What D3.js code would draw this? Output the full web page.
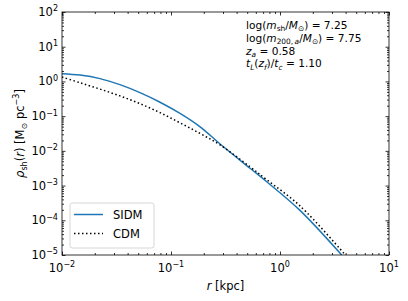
<!DOCTYPE html>
<html>
<head>
<meta charset="utf-8">
<script src="https://cdn.jsdelivr.net/npm/d3@7"></script>
<style>
  body { margin: 0; background: #fff; }
  text { font-family: "DejaVu Sans", sans-serif; fill: #000; }
</style>
</head>
<body>
<div class="container"></div>
<script>
// radius in kpc, density in Msun / pc^3
var sidmR   = [0.01, 0.0146, 0.0223, 0.034, 0.0519, 0.0793, 0.121, 0.185, 0.282, 0.531, 0.755, 1.525, 3.68];
var sidmRho = [1.67, 1.52, 1.205, 0.807, 0.475, 0.252, 0.120, 0.0493, 0.0158, 0.00316, 0.00129, 1.93e-4, 1.0e-5];
var cdmR    = [0.01, 0.0146, 0.0223, 0.034, 0.0519, 0.0793, 0.121, 0.185, 0.282, 0.531, 0.755, 1.525, 3.98];
var cdmRho  = [1.34, 0.918, 0.601, 0.383, 0.229, 0.126, 0.0641, 0.0316, 0.0148, 0.00347, 0.00148, 2.6e-4, 1.0e-5];

var xTicks = [-2, -1, 0, 1];            // exponents
var yTicks = [-5, -4, -3, -2, -1, 0, 1, 2];
var seriesNames = ["SIDM", "CDM"];
var infoLines = [
  [{t: "log("}, {t: "m", i: 1}, {t: "sh", s: "sub"}, {t: "/"}, {t: "M", i: 1}, {t: "\u2299", s: "sub"}, {t: ") = 7.25"}],
  [{t: "log("}, {t: "m", i: 1}, {t: "200,\u2009", s: "sub"}, {t: "a", s: "sub", i: 1}, {t: "/"}, {t: "M", i: 1}, {t: "\u2299", s: "sub"}, {t: ") = 7.75"}],
  [{t: "z", i: 1}, {t: "a", s: "sub", i: 1}, {t: " = 0.58"}],
  [{t: "t", i: 1}, {t: "L", s: "sub", i: 1}, {t: "("}, {t: "z", i: 1}, {t: "f", s: "sub", i: 1}, {t: ")/"}, {t: "t", i: 1}, {t: "c", s: "sub", i: 1}, {t: " = 1.10"}]
];

const WIDTH = 408, HEIGHT = 301;
const M = {left: 62, top: 12, right: 19, bottom: 46};
const IW = WIDTH - M.left - M.right;
const IH = HEIGHT - M.top - M.bottom;

var svg = d3.select('.container').append('svg')
  .attr('width', WIDTH).attr('height', HEIGHT);

var x = d3.scaleLog().domain([1e-2, 1e1]).range([0, IW]);
var y = d3.scaleLog().domain([1e-5, 1e2]).range([IH, 0]);

var g = svg.append('g').attr('transform', 'translate(' + M.left + ',' + M.top + ')');

// draws a text made of parts (italic / sub / sup)
function rich(sel, parts, size) {
  var shift = 0;
  parts.forEach(function(p) {
    var want = p.s == "sub" ? size * 0.22 : p.s == "sup" ? -size * 0.4 : 0;
    var ts = sel.append('tspan').text(p.t)
      .attr('dy', want - shift)
      .style('font-size', (p.s ? size * 0.7 : size) + 'px');
    if (p.i) ts.style('font-style', 'italic');
    shift = want;
  });
}

// minor ticks
function minors(lo, hi) {
  var out = [];
  for (var e = lo; e < hi; e++)
    for (var k = 2; k <= 9; k++) out.push(k * Math.pow(10, e));
  return out;
}
var xMinor = minors(-2, 1), yMinor = minors(-5, 2);

function tickAxis(axis, vals, len, tx, ty) {
  var a = g.append('g').attr('transform', 'translate(' + tx + ',' + ty + ')')
    .call(axis(axis === d3.axisBottom || axis === d3.axisTop ? x : y)
      .tickValues(vals).tickSize(-len).tickFormat(''));
  a.select('.domain').remove();
  a.selectAll('line').attr('stroke', '#000').attr('stroke-width', 0.8);
  return a;
}
var xMajor = xTicks.map(function(e) { return Math.pow(10, e); });
var yMajor = yTicks.map(function(e) { return Math.pow(10, e); });
tickAxis(d3.axisBottom, xMajor, 3.5, 0, IH);
tickAxis(d3.axisBottom, xMinor, 2, 0, IH);
tickAxis(d3.axisTop, xMajor, 3.5, 0, 0);
tickAxis(d3.axisTop, xMinor, 2, 0, 0);
tickAxis(d3.axisLeft, yMajor, 3.5, 0, 0);
tickAxis(d3.axisLeft, yMinor, 2, 0, 0);
tickAxis(d3.axisRight, yMajor, 3.5, IW, 0);
tickAxis(d3.axisRight, yMinor, 2, IW, 0);

// tick labels
xTicks.forEach(function(e) {
  var t = g.append('text').attr('x', x(Math.pow(10, e))).attr('y', IH + 17)
    .attr('text-anchor', 'middle');
  rich(t, [{t: "10"}, {t: e < 0 ? "\u2212" + (-e) : "" + e, s: "sup"}], 11.5);
});
yTicks.forEach(function(e) {
  var t = g.append('text').attr('x', -4).attr('y', y(Math.pow(10, e)) + 4)
    .attr('text-anchor', 'end');
  rich(t, [{t: "10"}, {t: e < 0 ? "\u2212" + (-e) : "" + e, s: "sup"}], 11.5);
});

// curves
g.append('clipPath').attr('id', 'clip').append('rect').attr('width', IW).attr('height', IH);
var line = d3.line()
  .x(function(d) { return x(d[0]); })
  .y(function(d) { return y(d[1]); })
  .curve(d3.curveCatmullRom.alpha(0.5));
var sidm = d3.zip(sidmR, sidmRho), cdm = d3.zip(cdmR, cdmRho);

g.append('path').datum(sidm).attr('d', line).attr('clip-path', 'url(#clip)')
  .attr('fill', 'none').attr('stroke', '#1f77b4').attr('stroke-width', 1.5);
g.append('path').datum(cdm).attr('d', line).attr('clip-path', 'url(#clip)')
  .attr('fill', 'none').attr('stroke', '#000').attr('stroke-width', 1.5)
  .attr('stroke-dasharray', '1.5,2.5');

// frame
g.append('rect').attr('width', IW).attr('height', IH)
  .attr('fill', 'none').attr('stroke', '#000').attr('stroke-width', 0.8);

// info text
infoLines.forEach(function(parts, i) {
  var t = svg.append('text').attr('x', 246).attr('y', 29 + i * 12.8);
  rich(t, parts, 10.6);
});

// legend
var lg = svg.append('g').attr('transform', 'translate(70,203)');
lg.append('rect').attr('width', 84).attr('height', 45).attr('rx', 2.5)
  .attr('fill', '#fff').attr('fill-opacity', 0.8).attr('stroke', '#ccc').attr('stroke-width', 0.8);
seriesNames.forEach(function(name, i) {
  var yy = 11.5 + i * 19;
  lg.append('line').attr('x1', 4).attr('x2', 33).attr('y1', yy).attr('y2', yy)
    .attr('stroke', i == 0 ? '#1f77b4' : '#000').attr('stroke-width', 1.5)
    .attr('stroke-dasharray', i == 0 ? null : '1.5,2.5');
  lg.append('text').attr('x', 43).attr('y', yy + 4.2).style('font-size', '11.5px').text(name);
});

// axis labels
var xl = svg.append('text').attr('x', M.left + IW / 2).attr('y', 290).attr('text-anchor', 'middle');
rich(xl, [{t: "r", i: 1}, {t: " [kpc]"}], 11.5);

var yl = svg.append('text').attr('text-anchor', 'middle')
  .attr('transform', 'translate(24,' + (M.top + IH / 2) + ') rotate(-90)');
rich(yl, [{t: "\u03C1", i: 1}, {t: "sh", s: "sub"}, {t: "("}, {t: "r", i: 1}, {t: ") [M"},
  {t: "\u2299", s: "sub"}, {t: " pc"}, {t: "\u22123", s: "sup"}, {t: "]"}], 11.5);
</script>
</body>
</html>
